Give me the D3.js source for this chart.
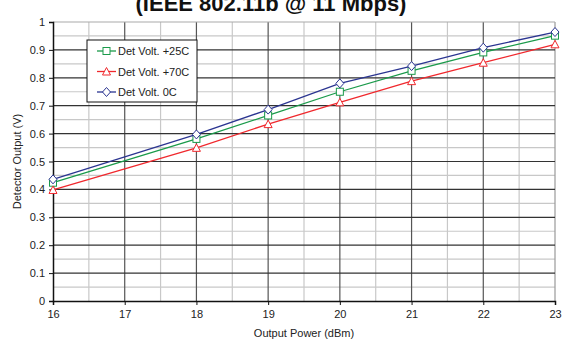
<!DOCTYPE html>
<html>
<head>
<meta charset="utf-8">
<script src="https://cdn.jsdelivr.net/npm/d3@7"></script>
<style>
  body { margin: 0; background: #fff; }
  svg text { font-family: Arial, "Liberation Sans", sans-serif; }
</style>
</head>
<body>
<div id="chart"></div>
<script>
// data
const powers = [16, 18, 19, 20, 21, 22, 23];
const volt25 = [0.424, 0.581, 0.665, 0.75, 0.825, 0.891, 0.951];
const volt70 = [0.398, 0.549, 0.634, 0.712, 0.788, 0.854, 0.92];
const volt0 = [0.436, 0.597, 0.686, 0.78, 0.842, 0.908, 0.964];
const xTicks = [16, 17, 18, 19, 20, 21, 22, 23];
const yTicks = [0, 0.1, 0.2, 0.3, 0.4, 0.5, 0.6, 0.7, 0.8, 0.9, 1];

const series = [
  { name: 'Det Volt. +25C', values: volt25, color: '#1a9a4a', shape: 'square' },
  { name: 'Det Volt. +70C', values: volt70, color: '#f0282d', shape: 'triangle' },
  { name: 'Det Volt. 0C', values: volt0, color: '#2b3591', shape: 'diamond' },
];

const width = 562;
const height = 339;
const margin = { top: 22, right: 7, bottom: 38, left: 53 };

const svg = d3
  .select('#chart')
  .append('svg')
  .attr('width', width)
  .attr('height', height);

// scales
const scaleX = d3
  .scaleLinear()
  .domain([16, 23])
  .range([margin.left, width - margin.right]);
const scaleY = d3
  .scaleLinear()
  .domain([0, 1])
  .range([height - margin.bottom, margin.top]);

// title (only lower part visible, as in the source)
svg
  .append('text')
  .attr('x', 271)
  .attr('y', 11)
  .attr('text-anchor', 'middle')
  .style('font-size', '22px')
  .style('font-weight', 'bold')
  .attr('fill', '#111')
  .text('(IEEE 802.11b @ 11 Mbps)');

// grid
const grid = svg.append('g');
const minorX = d3.range(16.5, 23, 1);
const minorY = d3.range(0.05, 1, 0.1);
grid
  .selectAll('.minorX')
  .data(minorX)
  .join('line')
  .attr('x1', (d) => scaleX(d))
  .attr('x2', (d) => scaleX(d))
  .attr('y1', scaleY(0))
  .attr('y2', scaleY(1))
  .attr('stroke', '#c8c8c8')
  .attr('stroke-width', 1.2);
grid
  .selectAll('.minorY')
  .data(minorY)
  .join('line')
  .attr('x1', scaleX(16))
  .attr('x2', scaleX(23))
  .attr('y1', (d) => scaleY(d))
  .attr('y2', (d) => scaleY(d))
  .attr('stroke', '#c8c8c8')
  .attr('stroke-width', 1.2);
grid
  .selectAll('.majorX')
  .data(xTicks.slice(1))
  .join('line')
  .attr('x1', (d) => scaleX(d))
  .attr('x2', (d) => scaleX(d))
  .attr('y1', scaleY(0))
  .attr('y2', scaleY(1))
  .attr('stroke', (d) => (d === 23 ? '#999' : '#555'))
  .attr('stroke-width', 1.2);
grid
  .selectAll('.majorY')
  .data(yTicks.slice(1))
  .join('line')
  .attr('x1', scaleX(16))
  .attr('x2', scaleX(23))
  .attr('y1', (d) => scaleY(d))
  .attr('y2', (d) => scaleY(d))
  .attr('stroke', (d) => (d === 1 ? '#aaa' : '#333'))
  .attr('stroke-width', 1.2);

// axes
const axisX = d3
  .axisBottom(scaleX)
  .tickValues(xTicks)
  .tickSize(4)
  .tickPadding(5)
  .tickFormat(d3.format('d'));
const axisY = d3
  .axisLeft(scaleY)
  .tickValues(yTicks)
  .tickSize(4)
  .tickPadding(4)
  .tickFormat(d3.format('~g'));

const gx = svg
  .append('g')
  .attr('transform', `translate(0,${scaleY(0)})`)
  .call(axisX);
const gy = svg
  .append('g')
  .attr('transform', `translate(${scaleX(16)},0)`)
  .call(axisY);
[gx, gy].forEach((g) => {
  g.select('.domain').attr('stroke', '#111').attr('stroke-width', 1.5);
  g.selectAll('.tick line').attr('stroke', '#111');
  g.selectAll('text').style('font-size', '11px').attr('fill', '#222');
});

// axis labels
svg
  .append('text')
  .attr('x', (scaleX(16) + scaleX(23)) / 2)
  .attr('y', 337)
  .attr('text-anchor', 'middle')
  .style('font-size', '11px')
  .attr('fill', '#222')
  .text('Output Power (dBm)');
svg
  .append('text')
  .attr('transform', `translate(21,${(scaleY(0) + scaleY(1)) / 2}) rotate(-90)`)
  .attr('text-anchor', 'middle')
  .style('font-size', '11px')
  .attr('fill', '#222')
  .text('Detector Output (V)');

// markers
function drawMarker(g, shape, color) {
  if (shape === 'square') {
    g.append('rect')
      .attr('x', -3.5)
      .attr('y', -3.5)
      .attr('width', 7)
      .attr('height', 7)
      .attr('fill', '#fff')
      .attr('stroke', color);
  } else if (shape === 'triangle') {
    g.append('path')
      .attr('d', 'M0,-4L4,3.5L-4,3.5Z')
      .attr('fill', '#fff')
      .attr('stroke', color);
  } else {
    g.append('path')
      .attr('d', 'M0,-4.5L4,0L0,4.5L-4,0Z')
      .attr('fill', '#fff')
      .attr('stroke', color);
  }
}

// lines
const line = d3
  .line()
  .x((d) => scaleX(d[0]))
  .y((d) => scaleY(d[1]));

series.forEach((s) => {
  const pts = powers.map((p, i) => [p, s.values[i]]);
  svg
    .append('path')
    .datum(pts)
    .attr('d', line)
    .attr('fill', 'none')
    .attr('stroke', s.color)
    .attr('stroke-width', 1.3);
  svg
    .append('g')
    .selectAll('g')
    .data(pts)
    .join('g')
    .attr('transform', (d) => `translate(${scaleX(d[0])},${scaleY(d[1])})`)
    .each(function () {
      drawMarker(d3.select(this), s.shape, s.color);
    });
});

// legend
const legend = svg.append('g').attr('transform', 'translate(87,40)');
legend
  .append('rect')
  .attr('width', 110)
  .attr('height', 62)
  .attr('fill', '#fff')
  .attr('stroke', '#111')
  .attr('stroke-width', 1);
series.forEach((s, i) => {
  const y = 11 + i * 20.5;
  const item = legend.append('g').attr('transform', `translate(0,${y})`);
  item
    .append('line')
    .attr('x1', 10)
    .attr('x2', 29)
    .attr('y1', 0)
    .attr('y2', 0)
    .attr('stroke', s.color)
    .attr('stroke-width', 1.3);
  drawMarker(item.append('g').attr('transform', 'translate(19.5,0)'), s.shape, s.color);
  item
    .append('text')
    .attr('x', 31)
    .attr('y', 4)
    .style('font-size', '11px')
    .attr('fill', '#222')
    .text(s.name);
});
</script>
</body>
</html>
